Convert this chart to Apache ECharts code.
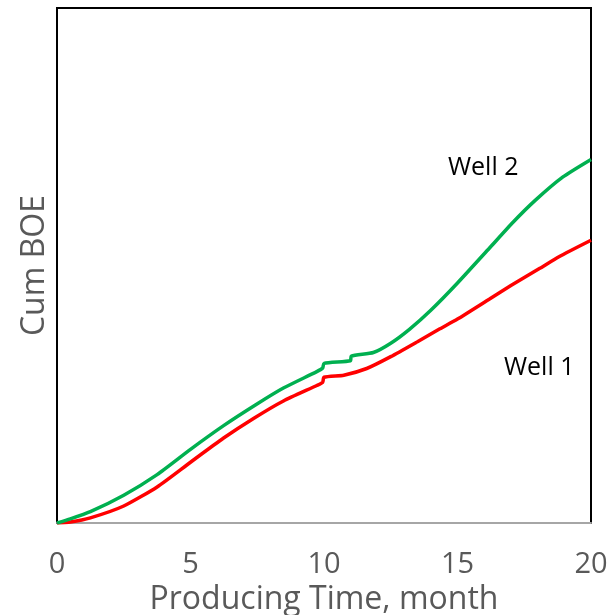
<!DOCTYPE html>
<html>
<head>
<meta charset="utf-8">
<script src="https://cdn.jsdelivr.net/npm/echarts@6/dist/echarts.min.js"></script>
<style>
html,body{margin:0;padding:0;background:#fff;}
#chart{width:607px;height:615px;}
</style>
</head>
<body>
<div id="chart"></div>
<script>
// Producing time (months) and cumulative BOE (relative units, axis unlabeled)
var well2Months = [0, 0.5, 1.25, 2.5, 3.75, 5.0, 6.24, 7.49, 8.48, 9.73, 9.95, 10.0, 10.99, 11.02, 11.85, 12.5, 13.2, 14.0, 15.0, 16.2, 17.08, 17.9, 18.95, 20];
var well2Values = [0, 0.8, 2.2, 5.4, 9.4, 14.3, 18.9, 23.1, 26.2, 29.4, 30.1, 31.0, 31.5, 32.4, 33.1, 34.9, 37.6, 41.3, 46.6, 53.4, 58.4, 62.6, 67.2, 70.6];
var well1Months = [0, 0.5, 1.25, 2.5, 3.75, 5.0, 6.24, 7.36, 8.48, 9.73, 9.95, 10.0, 10.74, 11.6, 12.5, 13.5, 14.34, 15.0, 16.2, 17.0, 18.1, 18.8, 20];
var well1Values = [0, 0.2, 1.0, 3.3, 7.0, 11.8, 16.5, 20.3, 23.7, 26.7, 27.3, 28.3, 28.7, 30.0, 32.3, 35.2, 37.7, 39.6, 43.5, 46.1, 49.5, 51.7, 54.9];
var xTicks = [0, 5, 10, 15, 20];
var seriesNames = ['Well 1', 'Well 2'];

function zip(a, b) { return a.map(function (v, i) { return [v, b[i]]; }); }

var chart = echarts.init(document.getElementById('chart'));
var font = 'Open Sans';
chart.setOption({
  animation: false,
  backgroundColor: '#fff',
  grid: { left: 57, right: 16, top: 8, bottom: 92, containLabel: false, outerBoundsMode: 'none', show: true, borderColor: '#000', borderWidth: 2, backgroundColor: 'transparent' },
  xAxis: {
    type: 'value', min: xTicks[0], max: xTicks[xTicks.length - 1], interval: 5,
    axisLine: { show: true, lineStyle: { color: '#A6A6A6', width: 2 } },
    axisTick: { show: false },
    splitLine: { show: false },
    axisLabel: { color: '#595959', fontSize: 29, fontFamily: font, margin: 27 },
    name: 'Producing Time, month', nameLocation: 'middle', nameGap: 58,
    nameTextStyle: { color: '#595959', fontSize: 32, fontFamily: font }
  },
  yAxis: {
    type: 'value', min: 0, max: 100,
    axisLine: { show: true, lineStyle: { color: '#000', width: 2 } },
    axisTick: { show: false },
    splitLine: { show: false },
    axisLabel: { show: false },
    name: 'Cum BOE', nameLocation: 'middle', nameGap: 6,
    nameTextStyle: { color: '#595959', fontSize: 32, fontFamily: font }
  },
  graphic: [
    { type: 'text', left: 448, top: 155, style: { text: seriesNames[1], fill: '#000', font: '25px "Open Sans"' } },
    { type: 'text', left: 504, top: 355, style: { text: seriesNames[0], fill: '#000', font: '25px "Open Sans"' } }
  ],
  series: [
    { name: seriesNames[0], type: 'line', data: zip(well1Months, well1Values), showSymbol: false, smooth: 0.2, lineStyle: { color: '#FF0000', width: 3.5 } },
    { name: seriesNames[1], type: 'line', data: zip(well2Months, well2Values), showSymbol: false, smooth: 0.2, lineStyle: { color: '#00B050', width: 3.5 } }
  ]
});
</script>
</body>
</html>
